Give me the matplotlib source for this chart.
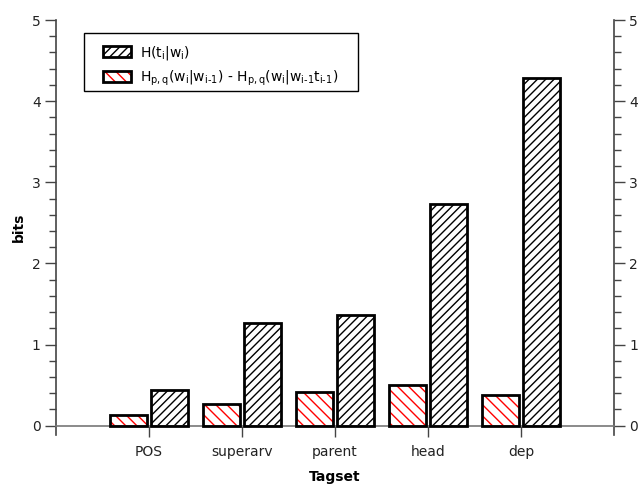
import matplotlib
matplotlib.use('Agg')
import matplotlib.pyplot as plt
import numpy as np
from matplotlib.patches import Patch, Rectangle
from matplotlib.ticker import MultipleLocator

# values
tagsets = ['POS', 'superarv', 'parent', 'head', 'dep']
h_diff = [0.13, 0.27, 0.41, 0.50, 0.38]   # Hp,q(wi|wi-1) - Hp,q(wi|wi-1 ti-1)
h_tag = [0.44, 1.27, 1.36, 2.73, 4.28]    # H(ti|wi)

plt.rcParams['font.family'] = 'DejaVu Sans'
plt.rcParams['mathtext.fontset'] = 'dejavusans'
plt.rcParams['hatch.linewidth'] = 1.0

fig = plt.figure(figsize=(6.42, 4.86), dpi=100)
ax = fig.add_axes([0.0872, 0.1041, 0.8692, 0.8547])

x = np.arange(1, len(tagsets) + 1)
w = 0.40
off = 0.22
axis_col = '#444444'
hatch_tag = '////'
hatch_diff = '\\\\\\'

# hatch drawn with the edge colour, outline drawn separately in black
ax.bar(x - off, h_diff, w, color='white', edgecolor='red', hatch=hatch_diff, linewidth=0, zorder=2)
ax.bar(x - off, h_diff, w, fill=False, edgecolor='black', linewidth=2, zorder=3)
ax.bar(x + off, h_tag, w, color='white', edgecolor='black', hatch=hatch_tag, linewidth=0, zorder=2)
ax.bar(x + off, h_tag, w, fill=False, edgecolor='black', linewidth=2, zorder=3)

ax.set_xlim(0, 6)
ax.set_ylim(-0.12, 5)
ax.set_xticks(x)
ax.set_xticklabels(tagsets)
ax.set_yticks([0, 1, 2, 3, 4, 5])
ax.yaxis.set_minor_locator(MultipleLocator(0.2))

ax.spines['top'].set_visible(False)
ax.spines['bottom'].set_position(('data', 0))
for s in ['left', 'right', 'bottom']:
    ax.spines[s].set_color(axis_col)
    ax.spines[s].set_linewidth(1.2)
ax.spines['bottom'].set_color('#777777')

ax.tick_params(axis='y', which='both', direction='out', left=True, right=True,
               labelleft=True, labelright=True, color=axis_col, width=1.0,
               labelsize=10, pad=3, labelcolor='#222222')
ax.tick_params(axis='y', which='major', length=8)
ax.tick_params(axis='y', which='minor', length=5)
ax.tick_params(axis='x', which='major', direction='out', length=8, width=1.0,
               color=axis_col, labelsize=10, pad=6, labelcolor='#222222')

ax.set_xlabel('Tagset', fontsize=10, fontweight='bold', labelpad=8)
ax.set_ylabel('bits', fontsize=10, fontweight='bold', labelpad=4)

# legend: frame drawn by hand so the inner padding can differ from the outer box
ax.add_patch(Rectangle((0.0502, 0.8298), 0.491, 0.1396, transform=ax.transAxes,
                       facecolor='white', edgecolor='black', linewidth=1.0,
                       zorder=4, clip_on=False))

tag_patch = (Patch(facecolor='white', edgecolor='black', hatch=hatch_tag, linewidth=0),
             Patch(fill=False, edgecolor='black', linewidth=2))
diff_patch = (Patch(facecolor='white', edgecolor='red', hatch=hatch_diff, linewidth=0),
              Patch(fill=False, edgecolor='black', linewidth=2))
hy = '\u2010'
labels = [
    r'H(t$_\mathregular{i}$|w$_\mathregular{i}$)',
    r'H$_\mathregular{p,q}$(w$_\mathregular{i}$|w$_\mathregular{i' + hy + r'1}$) - '
    r'H$_\mathregular{p,q}$(w$_\mathregular{i}$|w$_\mathregular{i' + hy + r'1}$t$_\mathregular{i' + hy + r'1}$)',
]
leg = ax.legend([tag_patch, diff_patch], labels, loc='upper left',
                bbox_to_anchor=(0.0842, 0.943),
                fontsize=10, frameon=False, borderpad=0, handlelength=2.0,
                handleheight=0.8, handletextpad=0.65, labelspacing=0.48,
                borderaxespad=0)
leg.set_zorder(5)

fig.savefig('out.png', dpi=100)
